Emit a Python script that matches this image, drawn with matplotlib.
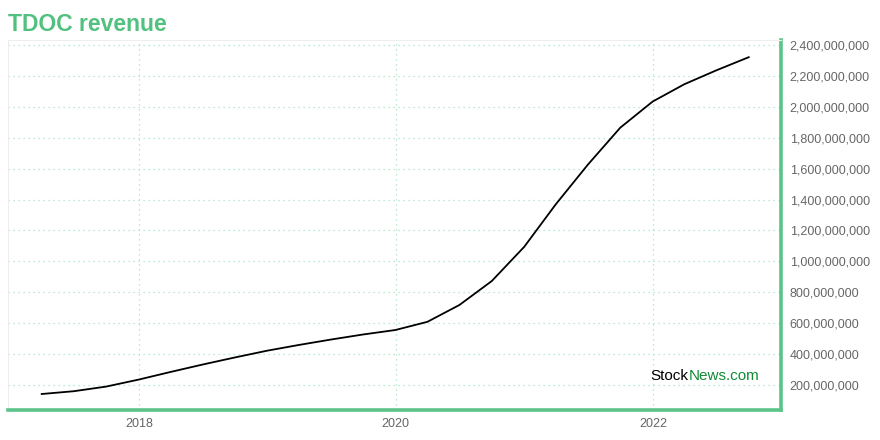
import matplotlib
matplotlib.use("Agg")
import matplotlib.pyplot as plt
from matplotlib.ticker import FuncFormatter
import matplotlib.dates as mdates
import pandas as pd

plt.rcParams["font.family"] = ["Liberation Sans", "DejaVu Sans"]

# trailing twelve month revenue, quarter ends
quarters = [
    "2017-03-31", "2017-06-30", "2017-09-30", "2017-12-31",
    "2018-03-31", "2018-06-30", "2018-09-30", "2018-12-31",
    "2019-03-31", "2019-06-30", "2019-09-30", "2019-12-31",
    "2020-03-31", "2020-06-30", "2020-09-30", "2020-12-31",
    "2021-03-31", "2021-06-30", "2021-09-30", "2021-12-31",
    "2022-03-31", "2022-06-30", "2022-09-30",
]
revenue = [
    142e6, 160e6, 190e6, 235e6,
    284e6, 332e6, 378e6, 422e6,
    459e6, 494e6, 527e6, 556e6,
    609e6, 718e6, 873e6, 1094e6,
    1370e6, 1626e6, 1865e6, 2034e6,
    2146e6, 2236e6, 2321e6,
]
y_ticks = [200e6 * i for i in range(1, 13)]
x_ticks = ["2018-01-01", "2020-01-01", "2022-01-01"]

green = "#5cc48a"
grid_green = "#a9e2c2"
gray = "#666666"

dates = pd.to_datetime(quarters)

fig = plt.figure(figsize=(8.8, 4.4), dpi=100)
ax = fig.add_axes([0.009, 0.068, 0.879, 0.841])

ax.plot(dates, revenue, color="black", linewidth=1.3)

ax.set_xlim(pd.Timestamp("2016-12-25"), pd.Timestamp("2023-01-01"))
ax.set_ylim(38e6, 2432e6)

ax.set_xticks(pd.to_datetime(x_ticks))
ax.xaxis.set_major_formatter(mdates.DateFormatter("%Y"))
ax.set_yticks(y_ticks)
ax.yaxis.set_major_formatter(FuncFormatter(lambda v, p: f"{int(round(v)):,}"))
ax.yaxis.tick_right()

ax.tick_params(axis="both", length=0, labelsize=9, labelcolor=gray)
ax.tick_params(axis="y", pad=6)
ax.tick_params(axis="x", pad=6)

ax.grid(True, color=grid_green, linestyle=(0, (1, 3)), linewidth=0.9)
ax.set_axisbelow(True)

for side in ["left", "top"]:
    ax.spines[side].set_color("#eeeeee")
    ax.spines[side].set_linewidth(0.8)
for side in ["bottom", "right"]:
    ax.spines[side].set_color(green)
    ax.spines[side].set_linewidth(2.6)

fig.text(0.009, 0.93, "TDOC revenue", fontsize=16.5, fontweight="bold",
         color="#52c17f", va="baseline", ha="left")

stock = ax.text(0.8305, 0.081, "Stock", transform=ax.transAxes, fontsize=11,
                color="black", va="baseline", ha="left")
ax.annotate("News.com", xy=(1, 0), xycoords=stock, fontsize=11,
            color="#118a35", va="bottom", ha="left")

fig.savefig("out.png", dpi=100)
